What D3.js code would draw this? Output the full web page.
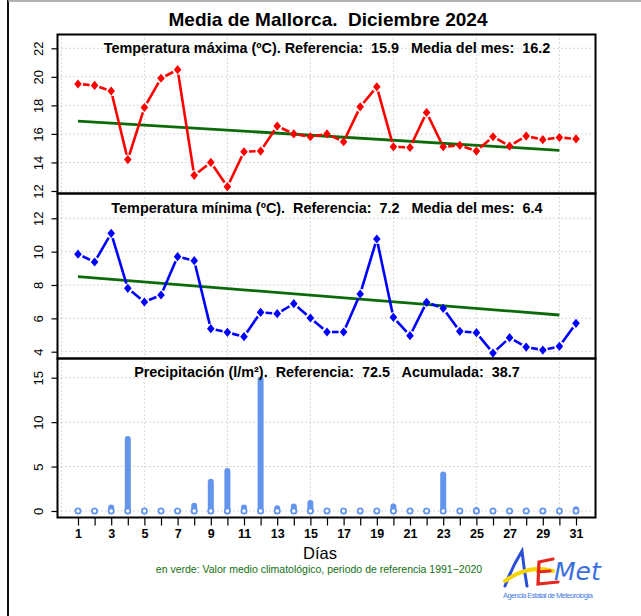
<!DOCTYPE html>
<html><head><meta charset="utf-8">
<script src="https://cdn.jsdelivr.net/npm/d3@7"></script>
<style>
body{margin:0;background:#fff;}
svg{display:block;font-family:"Liberation Sans",Arial,Helvetica,sans-serif;}
text{white-space:pre;}
</style></head>
<body><svg id="c" width="641" height="616"></svg>
<script>
const days = d3.range(1, 32);
const tmax = [19.5,19.4,19.0,14.2,17.85,19.9,20.5,13.1,14.0,12.3,14.75,14.8,16.55,16.0,15.8,16.0,15.45,17.9,19.3,15.1,15.05,17.5,15.1,15.2,14.8,15.8,15.15,15.85,15.6,15.75,15.65];
const tmin = [9.85,9.38,11.1,7.8,6.98,7.4,9.7,9.46,5.38,5.16,4.9,6.36,6.28,6.88,6.02,5.18,5.18,7.46,10.76,6.06,4.96,6.96,6.6,5.22,5.14,3.92,4.84,4.28,4.1,4.32,5.7];
const precip = [0,0,0.4,8.1,0,0,0,0.6,3.3,4.5,0.4,14.8,0.3,0.5,0.9,0,0,0,0,0.5,0,0,4.1,0,0.1,0,0,0,0,0,0.2];
const climDays = [1, 30];
const climMax = [16.9, 14.85];
const climMin = [8.5, 6.2];
const maxTicks = [12,14,16,18,20,22];
const minTicks = [4,6,8,10,12];
const precTicks = [0,5,10,15];
const gridDays = [0,5,10,15,20,25,30];
const mainTitle = "Media de Mallorca.  Diciembre 2024";
const titleMax = "Temperatura máxima (ºC). Referencia:  15.9   Media del mes:  16.2";
const titleMin = "Temperatura mínima (ºC).  Referencia:  7.2   Media del mes:  6.4";
const titlePrec = "Precipitación (l/m²).  Referencia:  72.5   Acumulada:  38.7";

const svg = d3.select("#c");
const L = 57.5, R = 595.5;
const x = d3.scaleLinear().domain([1,31]).range([78,576]);

// outer frame lines
svg.append("line").attr("x1",8).attr("x2",8).attr("y1",0).attr("y2",616).attr("stroke","#111").attr("stroke-width",2);
svg.append("line").attr("x1",8).attr("x2",641).attr("y1",1).attr("y2",1).attr("stroke","#999").attr("stroke-width",1.5);

svg.append("text").attr("x",328).attr("y",26).attr("text-anchor","middle")
  .attr("font-size",19).attr("font-weight","bold").text(mainTitle);

const panels = [
  {top:34.5, bot:193.5, y:d3.scaleLinear().domain([12,22]).range([191,48.3]), ticks:maxTicks, title:titleMax, ty:53},
  {top:193.5, bot:358.5, y:d3.scaleLinear().domain([4,12]).range([351.7,218.3]), ticks:minTicks, title:titleMin, ty:213},
  {top:358.5, bot:517.5, y:d3.scaleLinear().domain([0,15]).range([511,377.7]), ticks:precTicks, title:titlePrec, ty:377}
];

panels.forEach(p => {
  const g = svg.append("g");
  g.selectAll(".hg").data(p.ticks).join("line")
    .attr("x1",L).attr("x2",R-2).attr("y1",d=>p.y(d)).attr("y2",d=>p.y(d))
    .attr("stroke","#b0b0b0").attr("stroke-width",1).attr("stroke-dasharray","1,3");
  g.selectAll(".vg").data(gridDays).join("line")
    .attr("x1",d=>x(d)).attr("x2",d=>x(d)).attr("y1",p.top).attr("y2",p.bot)
    .attr("stroke","#b0b0b0").attr("stroke-width",1).attr("stroke-dasharray","1,3");
  const ax = svg.append("g").attr("transform",`translate(${L},0)`)
    .call(d3.axisLeft(p.y).tickValues(p.ticks).tickSize(6).tickPadding(0));
  ax.select(".domain").remove();
  ax.selectAll(".tick line").attr("stroke","#000").attr("stroke-width",1.2);
  ax.selectAll(".tick text").attr("x",0).attr("y",0).attr("dy",0)
    .attr("transform","translate(-14.5,0) rotate(-90)").attr("text-anchor","middle")
    .attr("font-size",13).attr("font-family","Liberation Sans, Arial, sans-serif").attr("fill","#000");
});

function drawSeries(p, vals, color) {
  const g = svg.append("g");
  const pts = days.map((d,i)=>[x(d), p.y(vals[i])]);
  const gap = 5;
  for (let i=0;i<pts.length-1;i++){
    const [x1,y1]=pts[i],[x2,y2]=pts[i+1];
    const dx=x2-x1, dy=y2-y1, len=Math.hypot(dx,dy);
    if (len<=2*gap) continue;
    const ux=dx/len, uy=dy/len;
    g.append("line").attr("x1",x1+ux*gap).attr("y1",y1+uy*gap)
      .attr("x2",x2-ux*gap).attr("y2",y2-uy*gap)
      .attr("stroke",color).attr("stroke-width",2.6);
  }
  g.selectAll("path.pt").data(pts).join("path")
    .attr("d",d=>`M${d[0]},${d[1]-4.6}L${d[0]+3.8},${d[1]}L${d[0]},${d[1]+4.6}L${d[0]-3.8},${d[1]}Z`)
    .attr("fill",color);
}
function drawClim(p, vals) {
  svg.append("path").datum(climDays.map((d,i)=>[d,vals[i]]))
    .attr("d", d3.line().x(d=>x(d[0])).y(d=>p.y(d[1])))
    .attr("fill","none").attr("stroke","#0b6b0b").attr("stroke-width",2.8);
}
drawClim(panels[0], climMax);
drawSeries(panels[0], tmax, "#ff0000");
drawClim(panels[1], climMin);
drawSeries(panels[1], tmin, "#0000ff");

const p3 = panels[2];
svg.append("g").selectAll("line").data(days.filter((d,i)=>precip[i]>0)).join("line")
  .attr("x1",d=>x(d)).attr("x2",d=>x(d))
  .attr("y1",p3.y(0)).attr("y2",d=>p3.y(precip[d-1]))
  .attr("stroke","#6495ed").attr("stroke-width",6).attr("stroke-linecap","round");
svg.append("g").selectAll("circle").data(days).join("circle")
  .attr("cx",d=>x(d)).attr("cy",p3.y(0)).attr("r",2.6)
  .attr("fill","#fff").attr("stroke","#6495ed").attr("stroke-width",1.8);

panels.forEach(p => {
  svg.append("rect").attr("x",L).attr("y",p.top).attr("width",R-L).attr("height",p.bot-p.top)
    .attr("fill","none").attr("stroke","#000").attr("stroke-width",2);
  svg.append("text").attr("x",327).attr("y",p.ty).attr("text-anchor","middle")
    .attr("font-size",14.4).attr("font-weight","bold").text(p.title);
});

const xa = svg.append("g").attr("transform",`translate(0,${panels[2].bot})`)
  .call(d3.axisBottom(x).tickValues(days).tickSize(8).tickPadding(4).tickFormat(d=>d%2?d:""));
xa.select(".domain").remove();
xa.selectAll(".tick line").attr("stroke","#000").attr("stroke-width",1.2);
xa.selectAll(".tick text").attr("font-size",12.5).attr("font-weight","bold")
  .attr("font-family","Liberation Sans, Arial, sans-serif").attr("fill","#000");

svg.append("text").attr("x",320).attr("y",559).attr("text-anchor","middle").attr("font-size",16.5).text("Días");
svg.append("text").attr("x",319).attr("y",573).attr("text-anchor","middle").attr("font-size",10.5)
  .attr("fill","#127012").text("en verde: Valor medio climatológico, periodo de referencia 1991−2020");

// AEMET logo (approximation)
const lg = svg.append("g");
lg.append("path").attr("d","M505,586 Q512,567 522,551 Q524,569 527,586").attr("fill","none").attr("stroke","#2a4fd6").attr("stroke-width",3).attr("stroke-linecap","round");
lg.append("path").attr("d","M505,581 Q528,564 553,571").attr("fill","none").attr("stroke","#f5d400").attr("stroke-width",4).attr("stroke-linecap","round");
lg.append("path").attr("d","M553,559 L539,562 L538,584 L558,582 M538,572 L550,571").attr("fill","none").attr("stroke","#e4261c").attr("stroke-width",3.2).attr("stroke-linecap","round");
lg.append("text").attr("x",554).attr("y",580).attr("font-size",25).attr("font-style","italic")
  .attr("font-family","DejaVu Sans, sans-serif").attr("fill","#3a6ee0").text("Met");
lg.append("text").attr("x",503).attr("y",598).attr("font-size",7.5).attr("fill","#4a7de0")
  .attr("textLength",90).text("Agencia Estatal de Meteorología");
</script></body></html>
